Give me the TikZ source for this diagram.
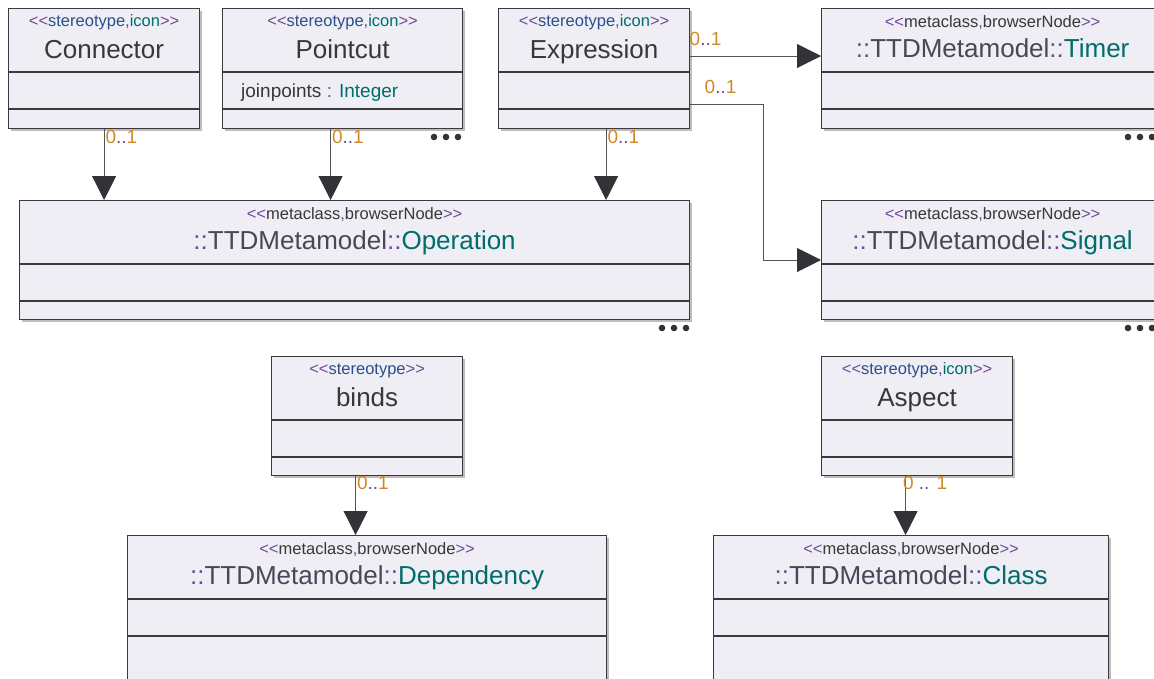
\documentclass[tikz,border=0pt]{standalone}
\usepackage{fontspec}
\setmainfont{Liberation Sans}
\usepackage{xcolor}
\usepackage{tikz}
\usetikzlibrary{arrows.meta,positioning,calc}
\definecolor{umlfill}{RGB}{239,238,245}
\definecolor{umlline}{RGB}{58,58,62}
\definecolor{umlshadow}{RGB}{196,186,186}
\definecolor{stpurple}{RGB}{112,72,150}
\definecolor{stblue}{RGB}{45,78,140}
\definecolor{stteal}{RGB}{0,108,108}
\definecolor{nmgray}{RGB}{55,55,60}
\definecolor{pkgray}{RGB}{78,68,88}
\definecolor{multorange}{RGB}{206,138,36}
\definecolor{linegray}{RGB}{85,85,88}
\definecolor{headgray}{RGB}{50,50,55}
\newcommand{\sopen}{\textcolor{stpurple}{<{}<}}
\newcommand{\sclose}{\textcolor{stpurple}{>{}>}}
\newcommand{\pkgsep}{\textcolor{stpurple}{::}}

\begin{document}
\begin{tikzpicture}[x=1pt,y=-1pt,
  box/.style={rectangle,draw=umlline,fill=umlfill,line width=1.2pt,anchor=north west,inner sep=0pt},
  shade/.style={fill=umlshadow},
  stereo/.style={anchor=base,font=\fontsize{16.5}{19}\selectfont,text=nmgray,inner sep=0pt},
  cname/.style={anchor=base,font=\fontsize{26}{31}\selectfont,text=nmgray,inner sep=0pt},
  attr/.style={anchor=base west,font=\fontsize{19}{22}\selectfont,text=nmgray,inner sep=0pt},
  mult/.style={anchor=base west,font=\fontsize{19}{22}\selectfont,text=multorange,inner sep=0pt},
  assoc/.style={draw=linegray,line width=1pt,-{Triangle[width=24pt,length=24pt,fill=headgray,color=headgray]}}]
  \useasboundingbox (0,0) rectangle (1154,678);
  \clip (0,0) rectangle (1154,678);
  % class boxes: name/left/right/top/bottom, with shadow and compartments
  \foreach \n/\xa/\xb/\ya/\yb in {conn/8/199/8/128, pcut/222/462/8/128, expr/498/689/8/128,
                                  timer/821/1163/8/128, oper/19/689/200/319, signal/821/1163/200/319,
                                  binds/271/462/356/475, aspect/821/1012/356/475,
                                  dep/127/606/535/720, cls/713/1108/535/720} {
    \fill[shade] (\xa+3,\ya+3) rectangle (\xb+3,\yb+3);
    \node[box,minimum width={\xb-\xa},minimum height={\yb-\ya}] (\n) at (\xa,\ya) {};
    \draw[umlline,line width=1.2pt] ($(\n.north west)+(0,64)$) -- ($(\n.north east)+(0,64)$);
    \draw[umlline,line width=1.2pt] ($(\n.north west)+(0,101)$) -- ($(\n.north east)+(0,101)$);
  }
  % stereotypes
  \foreach \n in {conn,pcut,expr,aspect}
    \node[stereo] (\n-st) at ($(\n.north)+(0,18)$) {\sopen\textcolor{stblue}{stereotype}\textcolor{stpurple}{,}\textcolor{stteal}{icon}\sclose};
  \node[stereo] (binds-st) at ($(binds.north)+(0,18)$) {\sopen\textcolor{stblue}{stereotype}\sclose};
  \foreach \n in {timer,oper,signal,dep,cls}
    \node[stereo] (\n-st) at ($(\n.north)+(0,19)$) {\sopen metaclass\textcolor{stpurple}{,}browserNode\sclose};
  % class names
  \node[cname] (conn-nm) at ($(conn.north)+(0,50)$) {Connector};
  \node[cname] (pcut-nm) at ($(pcut.north)+(0,50)$) {Pointcut};
  \node[cname] (expr-nm) at ($(expr.north)+(0,50)$) {Expression};
  \node[cname] (binds-nm) at ($(binds.north)+(0,50)$) {binds};
  \node[cname] (aspect-nm) at ($(aspect.north)+(0,50)$) {Aspect};
  \foreach \n/\t in {timer/Timer,oper/Operation,signal/Signal,dep/Dependency,cls/Class}
    \node[cname] (\n-nm) at ($(\n.north)+(0,49)$) {\pkgsep\textcolor{pkgray}{TTDMetamodel}\pkgsep\textcolor{stteal}{\t}};
  \node[attr] (pcut-at) at ($(pcut.north west)+(19,89)$) {joinpoints \textcolor{stpurple}{:} \textcolor{stteal}{Integer}};
  % associations
  \draw[assoc] (conn.south) -- node[mult,at start,xshift=1pt,yshift=-14pt] {0\textcolor{stpurple}{..}1} (conn.south |- oper.north);
  \draw[assoc] ([xshift=-12pt]pcut.south) -- node[mult,at start,xshift=1pt,yshift=-14pt] {0\textcolor{stpurple}{..}1} ([xshift=-12pt]pcut.south |- oper.north);
  \draw[assoc] ([xshift=12pt]expr.south) -- node[mult,at start,xshift=1pt,yshift=-14pt] {0\textcolor{stpurple}{..}1} ([xshift=12pt]expr.south |- oper.north);
  \draw[assoc] ($(expr.north east)+(0,48)$) -- node[mult,at start,xshift=-1pt,yshift=11pt] {0\textcolor{stpurple}{..}1} ($(timer.north west)+(0,48)$);
  \draw[assoc] ($(expr.north east)+(0,96)$) -- node[mult,at start,xshift=14pt,yshift=11pt] {0\textcolor{stpurple}{..}1} ++(73,0) |- ($(signal.north west)+(0,60)$);
  \draw[assoc] ([xshift=-11.5pt]binds.south) -- node[mult,at start,xshift=1pt,yshift=-13pt] {0\textcolor{stpurple}{..}1} ([xshift=-11.5pt]binds.south |- dep.north);
  \draw[assoc] ([xshift=-11.5pt]aspect.south) -- node[mult,at start,xshift=-3pt,yshift=-13pt] {0 \textcolor{stpurple}{..} 1} ([xshift=-11.5pt]aspect.south |- cls.north);
  % hidden-feature dots
  \foreach \dx/\dy in {446/137, 674/328, 1140/137, 1140/328}
    \foreach \k in {-12,0,12}
      \fill[headgray] (\dx+\k,\dy) circle (3.3);
\end{tikzpicture}
\end{document}
